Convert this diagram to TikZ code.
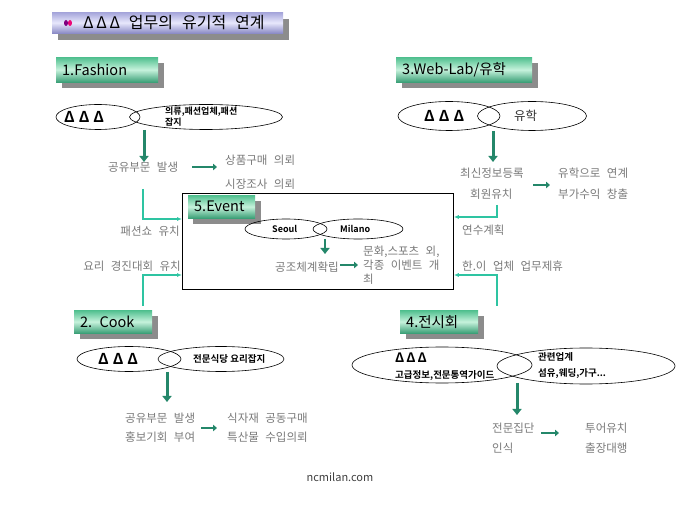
\documentclass[tikz,border=0pt]{standalone}
\usepackage{fontspec}
\setmainfont{Noto Sans CJK KR}[BoldFont={Noto Sans CJK KR Bold}]
\newfontfamily\krsp{Noto Sans CJK KR}[WordSpace=1.2]
\newfontfamily\krbsp{Noto Sans CJK KR Bold}
\newfontfamily\krtit{Noto Sans CJK KR}[WordSpace=2.5]
\usetikzlibrary{shapes.geometric,arrows.meta,shadows}
\definecolor{teal1}{HTML}{2EC4A2}
\definecolor{garrow}{HTML}{24876A}
\definecolor{gtext}{HTML}{7A7A7A}
\definecolor{gtop}{HTML}{4FBF8E}
\definecolor{gmid}{HTML}{C6F2DC}
\definecolor{gbot}{HTML}{3A9F76}
\definecolor{shgray}{HTML}{8C8C8C}
\definecolor{ltop}{HTML}{A4A4DA}
\definecolor{lmid}{HTML}{E8E8FC}
\definecolor{lbot}{HTML}{8A8AC6}
\begin{document}
\begin{tikzpicture}[x=1pt,y=-1pt,
  gt/.style={font=\krsp\fontsize{11.5}{14}\selectfont, text=gtext, inner sep=0pt, anchor=west, align=left},
  bt/.style={font=\krbsp\fontsize{9.5}{11}\selectfont, inner sep=0pt, anchor=west, align=left},
  del/.style={font=\bfseries\fontsize{15}{16}\selectfont, inner sep=0pt, anchor=west},
  ell/.style={draw, ellipse, line width=0.6pt, inner sep=0pt},
  lbl/.style={rectangle, inner xsep=6pt, inner ysep=0pt, anchor=north west, top color=gtop, bottom color=gbot, middle color=gmid, general shadow={fill=shgray, shadow xshift=6pt, shadow yshift=-6pt}, font=\fontsize{14.5}{16}\selectfont, align=left},
  bigarrow/.style={draw=garrow, line width=3pt, -{Triangle[length=6pt,width=9pt]}},
  smarrow/.style={draw=garrow, line width=2.2pt, -{Triangle[length=4pt,width=6.5pt]}},
  link/.style={draw=teal1, line width=1.1pt, -{Latex[length=5pt,width=4pt]}}
]
\useasboundingbox (0,0) rectangle (680,510);
\fill[white] (0,0) rectangle (680,510);

% title
\node[rectangle, minimum width=231, minimum height=21, inner sep=0pt, anchor=north west, top color=ltop, bottom color=lbot, middle color=lmid, general shadow={fill=shgray, shadow xshift=6pt, shadow yshift=-7pt}] (tb) at (52,12) {};
\fill[violet] (66,23) ellipse [x radius=2pt, y radius=3pt];
\fill[magenta!80!red] (70,23) ellipse [x radius=2pt, y radius=3pt];
\node[font=\krtit\fontsize{16}{17}\selectfont, anchor=west, inner sep=0pt] (tt) at (83,23) {Δ\,Δ\,Δ 업무의 유기적 연계};

% event box
\node[draw, line width=0.8pt, fill=white, minimum width=271, minimum height=96, anchor=north west, inner sep=0pt] (ev) at (182,193) {};

% 1. Fashion
\node[lbl, minimum width=102, minimum height=25, text width=90] (lf) at (56,57) {1.Fashion};
\node[ell, minimum width=84, minimum height=25] (fa) at (98,117) {};
\node[ell, minimum width=153, minimum height=25] (fb) at (206,117) {};
\node[del] (fad) at (64,117) {Δ\hspace{4pt}Δ\hspace{4pt}Δ};
\node[bt, font=\krbsp\fontsize{9}{11}\selectfont] (fbt) at (165,117) {의류,패션업체,패션\\잡지};
\coordinate (fx) at (144,130);
\coordinate (fy) at (144,162);
\draw[bigarrow] (fx) -- (fy);
\node[gt] (f1) at (108,167) {공유부문 발생};
\node[gt] (f2) at (225,160) {상품구매 의뢰};
\node[gt] (f3) at (225,184) {시장조사 의뢰};
\coordinate (fa1) at (192,167);
\coordinate (fa2) at (217,167);
\draw[smarrow] (fa1) -- (fa2);
\coordinate (fs) at (143,189);
\draw[link] (fs) |- (ev.west |- 0,219);
\node[gt, anchor=east] (f4) at (180,231) {패션쇼 유치};

% 2. Cook
\node[lbl, minimum width=78, minimum height=23, text width=66] (lc) at (74,310) {2. Cook};
\node[ell, minimum width=104, minimum height=25] (ca) at (129,359) {};
\node[ell, minimum width=126, minimum height=25] (cb) at (221,359) {};
\node[del] (cad) at (98,359) {Δ\hspace{4pt}Δ\hspace{4pt}Δ};
\node[bt] (cbt) at (193,359) {전문식당 요리잡지};
\coordinate (cx) at (167,372);
\coordinate (cy) at (167,402);
\draw[bigarrow] (cx) -- (cy);
\node[gt] (c1) at (125,418) {공유부문 발생};
\node[gt] (c2) at (125,437) {홍보기회 부여};
\node[gt] (c3) at (227,418) {식자재 공동구매};
\node[gt] (c4) at (227,437) {특산물 수입의뢰};
\coordinate (ca1) at (201,428);
\coordinate (ca2) at (217,428);
\draw[smarrow] (ca1) -- (ca2);
\coordinate (cs) at (143,306);
\draw[link] (cs) |- (ev.west |- 0,275);
\node[gt, anchor=east] (c5) at (181,266) {요리 경진대회 유치};

% 3. Web-Lab
\node[lbl, minimum width=136, minimum height=25, text width=124] (lw) at (396,57) {3.Web-Lab/유학};
\node[ell, minimum width=102, minimum height=29] (wa) at (449,116) {};
\node[ell, minimum width=109, minimum height=29] (wb) at (532,116) {};
\node[del] (wad) at (424,116) {Δ\hspace{4pt}Δ\hspace{4pt}Δ};
\node[font=\fontsize{12.5}{14}\selectfont, inner sep=0pt, anchor=west, text=black!80] (wbt) at (514,116) {유학};
\coordinate (wx) at (493,131);
\coordinate (wy) at (493,162);
\draw[bigarrow] (wx) -- (wy);
\node[gt] (w1) at (460,173) {최신정보등록};
\node[gt] (w2) at (470,194) {회원유치};
\node[gt] (w3) at (558,173) {유학으로 연계};
\node[gt] (w4) at (558,194) {부가수익 창출};
\coordinate (wa1) at (533,185);
\coordinate (wa2) at (550,185);
\draw[smarrow] (wa1) -- (wa2);
\coordinate (ws) at (497,205);
\draw[link] (ws) |- (ev.east |- 0,217);
\node[gt] (w5) at (462,230) {연수계획};

% 4. exhibition
\node[lbl, minimum width=78, minimum height=23, text width=66] (lx) at (400,310) {4.전시회};
\node[ell, minimum width=180, minimum height=36] (xa) at (442,365) {};
\node[ell, minimum width=178, minimum height=36] (xb) at (586,366) {};
\node[del, font=\bfseries\fontsize{13}{15}\selectfont] (xad) at (395,358) {Δ\hspace{2pt}Δ\hspace{2pt}Δ};
\node[bt] (xat) at (395,376) {고급정보,전문통역가이드};
\node[bt] (xb1) at (538,357) {관련업계};
\node[bt] (xb2) at (538,374) {섬유,웨딩,가구...};
\coordinate (xx) at (517,383);
\coordinate (xy) at (517,415);
\draw[bigarrow] (xx) -- (xy);
\node[gt] (x1) at (492,428) {전문집단};
\node[gt] (x2) at (492,448) {인식};
\node[gt] (x3) at (585,428) {투어유치};
\node[gt] (x4) at (585,448) {출장대행};
\coordinate (xa1) at (541,433);
\coordinate (xa2) at (559,433);
\draw[smarrow] (xa1) -- (xa2);
\coordinate (xs) at (497,306);
\draw[link] (xs) |- (ev.east |- 0,275);
\node[gt] (x5) at (462,266) {한.이 업체 업무제휴};

% 5. Event
\node[lbl, minimum width=67, minimum height=23, text width=55, general shadow={fill=shgray, shadow xshift=5pt, shadow yshift=-6pt}] (le) at (188,195) {5.Event};
\node[ell, minimum width=82, minimum height=20] (ea) at (286,229) {};
\node[ell, minimum width=90, minimum height=20] (eb) at (358,229) {};
\node[bt, font=\krbsp\fontsize{9}{11}\selectfont] (eat) at (272,229) {Seoul};
\node[bt, font=\krbsp\fontsize{9}{11}\selectfont] (ebt) at (340,229) {Milano};
\coordinate (ex) at (325,239);
\coordinate (ey) at (325,254);
\draw[bigarrow, line width=2.5pt] (ex) -- (ey);
\node[gt] (e1) at (275,267) {공조체계확립};
\coordinate (ea1) at (340,265);
\coordinate (ea2) at (358,265);
\draw[smarrow] (ea1) -- (ea2);
\node[gt] (e2) at (363,265) {문화,스포츠 외,\\각종 이벤트 개\\최};

\node[font=\fontsize{11}{13}\selectfont, text=black!75] (url) at (340,477) {ncmilan.com};
\end{tikzpicture}
\end{document}
